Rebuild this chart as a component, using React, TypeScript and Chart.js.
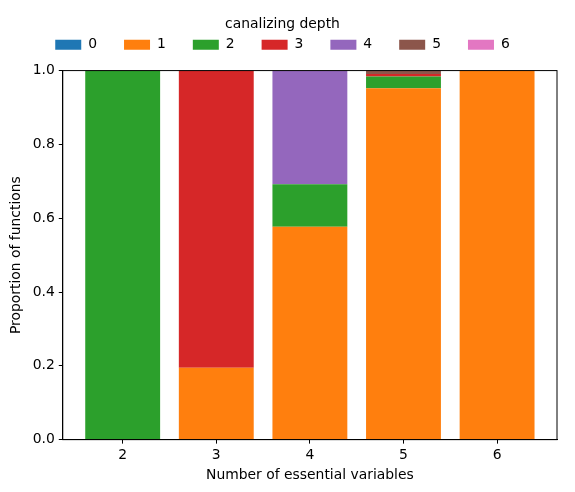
import { useEffect, useRef } from "react";
import Chart from "chart.js/auto";

const essentialVars = [2, 3, 4, 5, 6];
const depthLabels = ["0", "1", "2", "3", "4", "5", "6"];
const depthColors = ["#1f77b4", "#ff7f0e", "#2ca02c", "#d62728", "#9467bd", "#8c564b", "#e377c2"];

// proportion of functions per canalizing depth, one array per depth
const depth0 = [0, 0, 0, 0, 0];
const depth1 = [0, 0.195, 0.577, 0.952, 1];
const depth2 = [1, 0, 0.115, 0.032, 0];
const depth3 = [0, 0.805, 0, 0.007, 0];
const depth4 = [0, 0, 0.308, 0, 0];
const depth5 = [0, 0, 0, 0.009, 0];
const depth6 = [0, 0, 0, 0, 0];
const depthValues = [depth0, depth1, depth2, depth3, depth4, depth5, depth6];

const yTicks = [0, 0.2, 0.4, 0.6, 0.8, 1.0];

const FONT = "'DejaVu Sans', sans-serif";
const FS = 13.9;

// draws the full axes frame like matplotlib
const framePlugin = {
  id: "frame",
  afterInit(chart: any) {
    // a bit more room between the legend and the axes
    const legend = chart.legend;
    if (!legend) return;
    const fit = legend.fit;
    legend.fit = function () {
      fit.call(this);
      this.height += 9;
    };
  },
  afterDraw(chart: any) {
    const { ctx, chartArea } = chart;
    ctx.save();
    ctx.strokeStyle = "#000";
    ctx.lineWidth = 1;
    ctx.strokeRect(chartArea.left, chartArea.top, chartArea.right - chartArea.left, chartArea.bottom - chartArea.top);
    ctx.restore();
  },
};

export default function App() {
  const canvasRef = useRef<HTMLCanvasElement>(null);

  useEffect(() => {
    if (!canvasRef.current) return;
    const chart = new Chart(canvasRef.current, {
      type: "bar",
      data: {
        datasets: depthLabels.map((label, i) => ({
          label,
          data: essentialVars.map((x, j) => ({ x, y: depthValues[i][j] })),
          backgroundColor: depthColors[i],
          borderWidth: 0,
          barPercentage: 0.8,
          categoryPercentage: 1,
        })),
      },
      options: {
        animation: false,
        responsive: false,
        layout: { padding: { left: 8, right: 18, top: 10, bottom: 8 } },
        scales: {
          x: {
            type: "linear",
            stacked: true,
            offset: false,
            min: 1.36,
            max: 6.64,
            afterBuildTicks: (axis: any) => {
              axis.ticks = essentialVars.map((v) => ({ value: v }));
            },
            border: { display: true, color: "#000" },
            grid: { offset: false, drawOnChartArea: false, drawTicks: true, tickLength: 4, color: "#000" },
            ticks: { color: "#000", font: { size: FS, family: FONT }, padding: 3, callback: (v: any) => String(v) },
            title: { display: true, text: "Number of essential variables", color: "#000", font: { size: FS, family: FONT }, padding: { top: 1, bottom: 0 } },
          },
          y: {
            stacked: true,
            min: 0,
            max: 1,
            afterBuildTicks: (axis: any) => {
              axis.ticks = yTicks.map((v) => ({ value: v }));
            },
            border: { display: true, color: "#000" },
            grid: { drawOnChartArea: false, drawTicks: true, tickLength: 4, color: "#000" },
            ticks: { color: "#000", font: { size: FS, family: FONT }, padding: 4, callback: (v: any) => Number(v).toFixed(1) },
            title: { display: true, text: "Proportion of functions", color: "#000", font: { size: FS, family: FONT }, padding: { top: 0, bottom: 4 } },
          },
        },
        plugins: {
          legend: {
            position: "top",
            labels: {
              boxWidth: 26,
              boxHeight: 10,
              padding: 27,
              color: "#000",
              font: { size: FS, family: FONT },
            },
            title: {
              display: true,
              text: "canalizing depth",
              color: "#000",
              font: { size: FS, family: FONT },
              padding: { top: 7, bottom: -23 },
            },
          },
          tooltip: { enabled: false },
        },
      },
      plugins: [framePlugin],
    });
    return () => chart.destroy();
  }, []);

  return (
    <div style={{ position: "fixed", left: 0, top: 0, width: 575, height: 492, background: "#fff" }}>
      <canvas ref={canvasRef} width={575} height={492} />
    </div>
  );
}
